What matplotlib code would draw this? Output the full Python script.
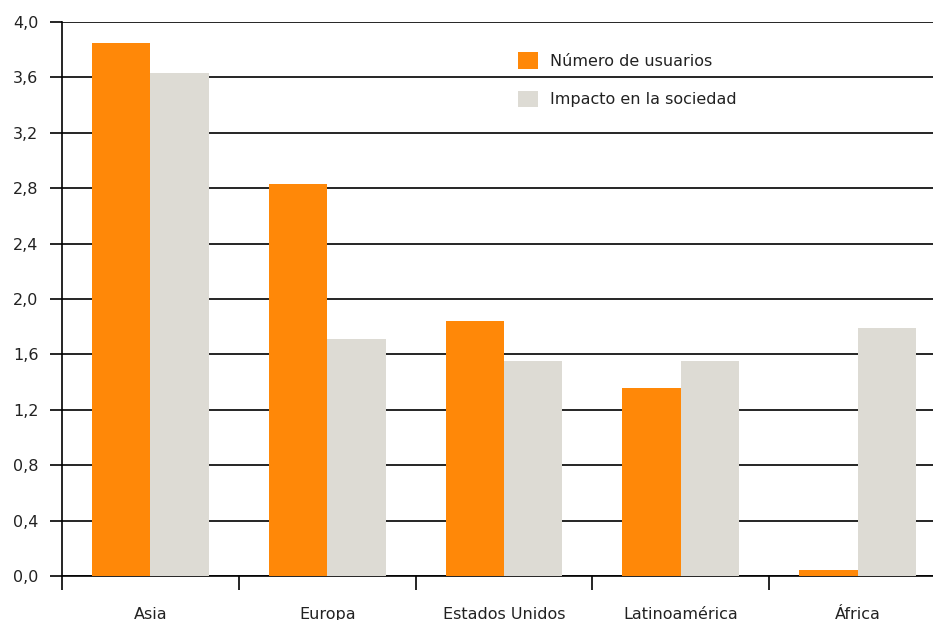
import matplotlib
matplotlib.use("Agg")
import matplotlib.pyplot as plt
import numpy as np
from matplotlib.patches import Patch

categories = ["Asia", "Europa", "Estados Unidos", "Latinoamérica", "África"]
usuarios = [3.85, 2.83, 1.84, 1.36, 0.04]
impacto = [3.63, 1.71, 1.55, 1.55, 1.79]
series_names = ["Número de usuarios", "Impacto en la sociedad"]
yticks = [0.0, 0.4, 0.8, 1.2, 1.6, 2.0, 2.4, 2.8, 3.2, 3.6, 4.0]

ORANGE = "#FF8808"
GRAY = "#DDDBD4"

W, H = 933, 620
fig = plt.figure(figsize=(W / 100, H / 100), dpi=100)
plt.rcParams["font.family"] = ["DejaVu Sans"]
FS = 11.5

left, right, top, bottom = 62, 946, 22, 576
ax = fig.add_axes([left / W, (H - bottom) / H, (right - left) / W, (bottom - top) / H])

x = np.arange(len(categories))
bw = 0.33
ax.bar(x - bw / 2, usuarios, bw, color=ORANGE, zorder=3)
ax.bar(x + bw / 2, impacto, bw, color=GRAY, zorder=3)

ax.set_xlim(-0.5, len(categories) - 0.5)
ax.set_ylim(0, 4.0)
ax.set_yticks(yticks)
ax.set_yticklabels([f"{v:.1f}".replace(".", ",") for v in yticks], fontsize=FS, color="#222222")
ax.yaxis.grid(True, color="black", linewidth=1.2, zorder=1)
ax.set_axisbelow(True)

ax.set_xticks(np.arange(len(categories) + 1) - 0.5)
ax.set_xticklabels([])
ax.set_xticks(x, minor=True)
ax.set_xticklabels(categories, minor=True, fontsize=FS, color="#222222")
ax.tick_params(axis="x", which="major", direction="out", length=10, width=1.2, color="black")
ax.tick_params(axis="x", which="minor", length=0, pad=22)
ax.tick_params(axis="y", direction="out", length=9, width=1.2, color="black", pad=8)

for s in ["top", "right"]:
    ax.spines[s].set_visible(False)
ax.spines["left"].set_linewidth(1.2)
ax.spines["bottom"].set_linewidth(1.2)

handles = [Patch(facecolor=ORANGE, edgecolor="none"), Patch(facecolor=GRAY, edgecolor="none")]
leg = fig.legend(handles, series_names, loc="upper left",
                 bbox_to_anchor=(504 / W, 1 - 38 / H), frameon=False, fontsize=FS,
                 handlelength=1.2, handleheight=1.2, labelspacing=1.35, handletextpad=0.8)
for t in leg.get_texts():
    t.set_color("#222222")

fig.savefig("out.png", dpi=100)
